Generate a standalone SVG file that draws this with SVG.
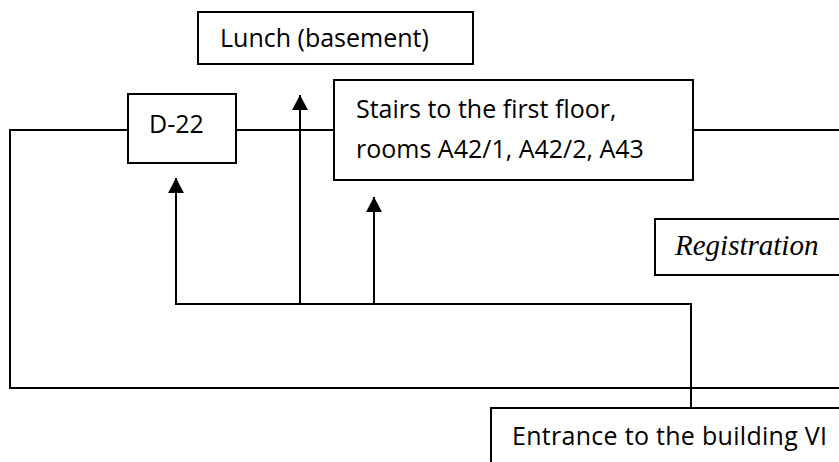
<svg xmlns="http://www.w3.org/2000/svg" width="839" height="462" viewBox="0 0 839 462">
<style>
.box{fill:#fff;stroke:#000;stroke-width:2}
.t{font-family:"Open Sans","Liberation Sans",sans-serif;font-size:25px;fill:#000}
.ti{font-family:"Liberation Serif",serif;font-style:italic;font-size:29px;fill:#000}
.ln{fill:none;stroke:#000;stroke-width:2}
</style>
<defs>
<marker id="ah" markerUnits="userSpaceOnUse" markerWidth="16" markerHeight="16" viewBox="0 0 16 16" refX="15" refY="8" orient="auto">
<path d="M0,0 L15,8 L0,16 Z" fill="#000"/>
</marker>
</defs>
<rect width="839" height="462" fill="#fff"/>
<g id="connectors">
<path class="ln" d="M128,130 H10 V388 H839"/>
<path class="ln" d="M236,130 H334"/>
<path class="ln" d="M693,130 H839"/>
<path class="ln" d="M691,408 V304 H176 V178" marker-end="url(#ah)"/>
<path class="ln" d="M300,304 V95" marker-end="url(#ah)"/>
<path class="ln" d="M374,304 V197" marker-end="url(#ah)"/>
</g>
<g id="lunch">
<rect class="box" x="198" y="12" width="275" height="52"/>
<text class="t" x="220" y="47">Lunch (basement)</text>
</g>
<g id="d22">
<rect class="box" x="128" y="94" width="108" height="69"/>
<text class="t" x="149" y="133">D-22</text>
</g>
<g id="stairs">
<rect class="box" x="334" y="80" width="359" height="100"/>
<text class="t" x="356" y="118">Stairs to the first floor,</text>
<text class="t" x="356" y="158">rooms A42/1, A42/2, A43</text>
</g>
<g id="registration">
<rect class="box" x="655" y="219" width="200" height="56"/>
<text class="ti" x="675" y="255">Registration</text>
</g>
<g id="entrance">
<rect class="box" x="491" y="408" width="360" height="70"/>
<text class="t" x="512" y="445" textLength="315">Entrance to the building VI</text>
</g>
</svg>
